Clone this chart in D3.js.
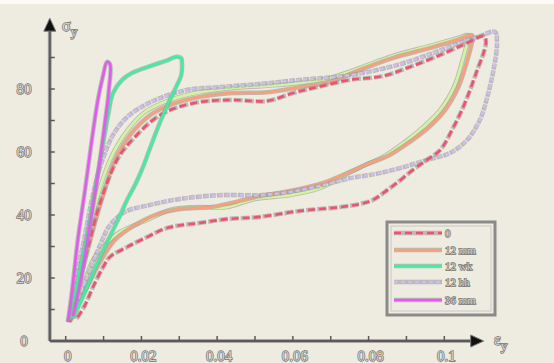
<!DOCTYPE html>
<html><head><meta charset="utf-8">
<script src="https://cdn.jsdelivr.net/npm/d3@7"></script>
<style>body{margin:0;background:#eeebe0;overflow:hidden}</style>
</head><body>
<svg id="c" width="554" height="363"></svg>
<script>
// ---- tick data ----
const xTicks = [0, 0.02, 0.04, 0.06, 0.08, 0.1];
const xTickLabels = ["0", "0.02", "0.04", "0.06", "0.08", "0.1"];
const xMinorTicks = [0,0.01,0.02,0.03,0.04,0.05,0.06,0.07,0.08,0.09,0.1];
const yTicks = [0, 20, 40, 60, 80];
const yTickLabels = ["0", "20", "40", "60", "80"];
const yMinorTicks = [10,20,30,40,50,60,70,80,90];

// ---- series names ----
const seriesNames = ["0", "12 mm", "12 wk", "12 hh", "36 mm"];

// ---- series "0" (red dashed) ----
const redStrain = [0.0011,0.0025,0.0043,0.0064,0.0085,0.0112,0.0143,0.0188,0.0231,0.0275,0.0355,0.0442,0.0532,0.0600,0.0664,0.0751,0.0838,0.0909,0.0989,0.1055,0.1105,
  0.1110,0.1102,0.1089,0.1070,0.1049,0.1023,0.0989,0.0954,0.0917,0.0875,0.0849,0.0812,0.0777,0.0724,0.0619,0.0513,0.0426,0.0355,0.0268,0.0215,0.0162,0.0117,0.0099,0.0072,0.0051,0.0027];
const redStress = [6.0,13.0,22.5,32.1,41.6,51.1,59.0,65.4,70.2,73.3,75.9,76.5,76.2,78.7,80.6,82.9,84.1,87.0,90.8,94.3,96.8,
  94.9,90.8,86.7,80.3,74.0,67.6,60.6,57.5,54.3,50.2,47.9,44.8,43.5,42.5,41.3,39.4,38.7,37.5,35.9,33.0,29.8,26.7,23.5,17.1,11.4,6.7];

// ---- series 2 (orange) ----
const orangeStrain = [0.0011,0.0027,0.0048,0.0072,0.0099,0.0130,0.0170,0.0223,0.0275,0.0355,0.0442,0.0532,0.0619,0.0698,0.0777,0.0864,0.0962,0.1036,0.1073,
  0.1073,0.1057,0.1036,0.1002,0.0957,0.0909,0.0851,0.0804,0.0751,0.0680,0.0592,0.0513,0.0447,0.0381,0.0302,0.0236,0.0183,0.0130,0.0091,0.0059,0.0032,0.0014];
const orangeStress = [6.7,14.6,24.1,35.2,46.3,57.5,65.4,71.7,74.9,77.5,78.7,79.0,80.6,82.2,86.0,89.8,93.0,95.6,97.1,
  94.9,87.6,80.3,73.3,67.6,63.2,58.7,56.5,53.7,50.2,47.6,46.0,44.1,42.5,41.9,40.0,36.8,32.1,25.1,17.8,11.4,6.7];

// ---- series 3 (green) ----
const greenStrain = [0.0011,0.0025,0.0040,0.0059,0.0077,0.0096,0.0112,0.0125,0.0149,0.0175,0.0231,0.0270,0.0291,0.0305,
  0.0307,0.0305,0.0294,0.0275,0.0257,0.0241,0.0223,0.0204,0.0183,0.0162,0.0138,0.0112,0.0085,0.0059,0.0038,0.0019];
const greenStress = [6.7,14.6,24.1,35.2,47.9,60.6,71.7,78.7,82.9,85.1,87.6,89.2,90.2,89.8,
  88.6,84.4,81.3,76.5,71.7,67.0,61.3,55.2,49.5,44.8,38.4,32.1,25.1,17.8,12.1,7.3];

// ---- series 4 (lavender) ----
const lavStrain = [0.0006,0.0017,0.0032,0.0051,0.0069,0.0091,0.0125,0.0162,0.0209,0.0249,0.0320,0.0407,0.0513,0.0619,0.0751,0.0875,0.0970,0.1041,0.1094,0.1134,
  0.1139,0.1131,0.1115,0.1094,0.1060,0.1015,0.0954,0.0883,0.0817,0.0751,0.0680,0.0592,0.0513,0.0407,0.0302,0.0223,0.0157,0.0117,0.0091,0.0064,0.0038,0.0017];
const lavStress = [6.0,13.0,22.5,33.7,44.8,55.2,65.4,71.1,74.9,77.1,79.7,80.6,81.6,82.9,84.4,87.6,91.4,94.6,96.8,98.1,
  94.0,86.7,78.1,70.2,63.8,59.7,57.5,54.9,53.0,51.7,49.5,47.3,46.3,46.3,45.1,43.2,41.0,36.8,30.5,22.5,14.6,7.3];

// ---- series 5 (magenta) ----
const magStrain = [0.0006,0.0017,0.0032,0.0051,0.0069,0.0085,0.0099,0.0109,
  0.0117,0.0114,0.0101,0.0083,0.0062,0.0040,0.0019];
const magStress = [6.0,16.2,32.1,47.9,63.8,76.5,84.4,88.6,
  87.9,79.7,67.0,51.1,35.2,19.4,7.9];

// ---- extra trace (light yellow-green, unlabelled) ----
const ygStrain = [0.0009,0.0022,0.0040,0.0062,0.0085,0.0117,0.0154,0.0209,0.0275,0.0355,0.0442,0.0532,0.0619,0.0698,0.0777,0.0864,0.0962,0.1036,0.1062,
  0.1062,0.1047,0.1028,0.0989,0.0941,0.0896,0.0838,0.0791,0.0738,0.0672,0.0592,0.0500,0.0426,0.0337,0.0275,0.0215,0.0143,0.0104,0.0072,0.0051,0.0030,0.0014];
const ygStress = [6.7,14.6,24.1,35.2,46.3,57.5,65.4,72.7,76.5,79.0,80.3,81.0,81.9,83.5,86.7,90.5,93.7,96.2,97.1,
  95.6,88.6,81.3,73.3,67.6,63.2,58.4,55.9,52.7,48.6,46.3,45.1,42.5,42.5,41.6,38.4,34.6,30.5,25.7,19.4,13.0,7.3];

const svg = d3.select("#c");
const W = 554, H = 363;
svg.append("rect").attr("width", W).attr("height", H).attr("fill", "#eeebe0");
svg.append("rect").attr("width", W).attr("height", 4).attr("fill", "#fbfaf6");

const x = d3.scaleLinear().domain([0, 0.1]).range([65.7, 444.3]);
const y = d3.scaleLinear().domain([0, 80]).range([341, 89]);

const axisColor = "#5a5a5a";
const xAxisStart = -0.0042, xAxisEnd = 0.1075;
const yAxisEnd = 99;

// axes lines
[["#aaa", 4], [axisColor, 2]].forEach(([c, w]) => {
  svg.append("line").attr("x1", x(xAxisStart)).attr("x2", x(xAxisEnd))
    .attr("y1", y(0)).attr("y2", y(0)).attr("stroke", c).attr("stroke-width", w);
  svg.append("line").attr("x1", x(xAxisStart)).attr("x2", x(xAxisStart))
    .attr("y1", y(0)).attr("y2", y(yAxisEnd)).attr("stroke", c).attr("stroke-width", w);
});

// arrows
const ax = x(xAxisStart), ay = y(yAxisEnd);
svg.append("path").attr("d", `M${ax},${ay-11} L${ax-6},${ay+2} L${ax+6},${ay+2} Z`).attr("fill", "#111").attr("stroke","#777").attr("stroke-width",1);
const bx = x(xAxisEnd), by = y(0);
svg.append("path").attr("d", `M${bx+11},${by} L${bx-2},${by-6} L${bx-2},${by+6} Z`).attr("fill", "#111").attr("stroke","#777").attr("stroke-width",1);

// ticks
svg.selectAll(".xt").data(xMinorTicks).enter().append("line")
  .attr("x1", d => x(d)).attr("x2", d => x(d)).attr("y1", y(0)).attr("y2", y(0) - 5)
  .attr("stroke", axisColor).attr("stroke-width", 1.5);
svg.selectAll(".yt").data(yMinorTicks).enter().append("line")
  .attr("x1", ax).attr("x2", ax + 5).attr("y1", d => y(d)).attr("y2", d => y(d))
  .attr("stroke", axisColor).attr("stroke-width", 1.5);

function txt(sel) {
  return sel.attr("font-family", "Liberation Serif, DejaVu Serif, serif")
    .attr("fill", "#d4d4d4").attr("stroke", "#707070").attr("stroke-width", 1.3)
    .attr("paint-order", "stroke");
}
txt(svg.selectAll(".xl").data(xTicks).enter().append("text")
  .attr("x", d => x(d) + 2).attr("y", 361).attr("text-anchor", "middle")
  .attr("font-size", 15).text((d, i) => xTickLabels[i]));
txt(svg.selectAll(".yl").data(yTicks).enter().append("text")
  .attr("x", 24).attr("y", d => y(d) + 5).attr("text-anchor", "middle")
  .attr("font-size", 15).text((d, i) => yTickLabels[i]));

// axis titles
const sl = txt(svg.append("text").attr("x", 62).attr("y", 31).attr("font-size", 16));
sl.append("tspan").text("σ");
sl.append("tspan").attr("dy", 5).attr("font-size", 13).text("y");
const el = txt(svg.append("text").attr("x", 494).attr("y", 345).attr("font-size", 16));
el.append("tspan").text("ε");
el.append("tspan").attr("dy", 5).attr("font-size", 13).text("y");

// series
const series = [
  {strain: ygStrain, stress: ygStress, color: "#d4f5a0", dash: null},
  {strain: orangeStrain, stress: orangeStress, color: "#f7a07c", dash: null},
  {strain: lavStrain, stress: lavStress, color: "#cbbff2", dash: "4,3"},
  {strain: redStrain, stress: redStress, color: "#f2506c", dash: "7,4"},
  {strain: greenStrain, stress: greenStress, color: "#3cf0a0", dash: null},
  {strain: magStrain, stress: magStress, color: "#e25af0", dash: null}
];
const line = d3.line().x(d => x(d[0])).y(d => y(d[1])).curve(d3.curveCatmullRom.alpha(0.5));
series.forEach(s => {
  const pts = s.strain.map((v, i) => [v, s.stress[i]]);
  svg.append("path").attr("d", line(pts)).attr("fill", "none")
    .attr("stroke", "#9a9a9a").attr("stroke-opacity", 0.6).attr("stroke-width", 4.5)
    .attr("stroke-dasharray", s.dash ? s.dash.split(",").map((v,i)=> i%2? +v-2 : +v+2).join(",") : null)
    .attr("stroke-linejoin", "round");
  svg.append("path").attr("d", line(pts)).attr("fill", "none")
    .attr("stroke", s.color).attr("stroke-width", 2.6)
    .attr("stroke-dasharray", s.dash).attr("stroke-linejoin", "round");
});

// legend
const lg = svg.append("g");
lg.append("rect").attr("x", 387).attr("y", 222).attr("width", 108).attr("height", 93)
  .attr("fill", "none").attr("stroke", "#8a8a8a").attr("stroke-width", 3);
lg.append("rect").attr("x", 391).attr("y", 226).attr("width", 100).attr("height", 85)
  .attr("fill", "none").attr("stroke", "#c8c8c8").attr("stroke-width", 1);
const legendSeries = [3, 1, 4, 2, 5];
const legendY = [233, 250, 266, 282, 300];
legendSeries.forEach((si, k) => {
  const s = series[si];
  const yy = legendY[k];
  lg.append("line").attr("x1", 394).attr("x2", 442).attr("y1", yy).attr("y2", yy)
    .attr("stroke", "#9a9a9a").attr("stroke-width", 4.5).attr("stroke-opacity", 0.6);
  lg.append("line").attr("x1", 394).attr("x2", 442).attr("y1", yy).attr("y2", yy)
    .attr("stroke", s.color).attr("stroke-width", 2.6).attr("stroke-dasharray", s.dash);
  txt(lg.append("text").attr("x", 445).attr("y", yy + 4).attr("font-size", 11)
    .text(seriesNames[k]));
});
</script>
</body></html>
